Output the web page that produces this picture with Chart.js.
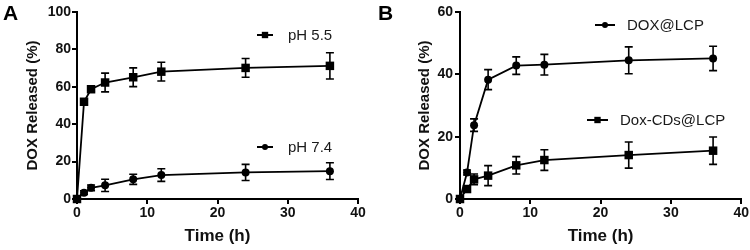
<!DOCTYPE html>
<html>
<head>
<meta charset="utf-8">
<script src="https://cdn.jsdelivr.net/npm/chart.js@4.4.1/dist/chart.umd.min.js"></script>
<style>
  html, body { margin: 0; padding: 0; background: #fff; }
  #wrap { position: relative; width: 750px; height: 250px; overflow: hidden; }
  .panel { position: absolute; top: 0; width: 375px; height: 250px; }
  .letter { position: absolute; top: 1px; font: bold 21px "Liberation Sans", Arial, sans-serif; color: #000; }
</style>
</head>
<body>
<div id="wrap">
  <div class="panel" style="left:0"><canvas id="cA" width="375" height="250"></canvas></div>
  <div class="panel" style="left:375px"><canvas id="cB" width="375" height="250"></canvas></div>
  <div class="letter" style="left:3px">A</div>
  <div class="letter" style="left:378px">B</div>
</div>
<script>
// ---- data ----
const timeH = [0, 1, 2, 4, 8, 12, 24, 36];

const ph55 = [0, 52, 58.7, 62.3, 65.1, 68.1, 70.1, 71.2];
const ph55Err = [0, 1.5, 1.2, 5, 5, 5, 5, 7];
const ph74 = [0, 3.4, 6, 7.3, 10.5, 12.8, 14.2, 14.9];
const ph74Err = [0, 1, 1.5, 3.3, 2.7, 3.4, 4.3, 4.5];

const doxLcp = [0, 8.5, 23.7, 38.3, 42.8, 43.1, 44.5, 45.1];
const doxLcpErr = [0, 0.8, 2, 3.2, 2.8, 3.3, 4.3, 3.9];
const doxCds = [0, 3.2, 6.3, 7.5, 10.8, 12.5, 14.1, 15.5];
const doxCdsErr = [0, 1, 1.7, 3.2, 2.8, 3.3, 4.2, 4.4];

const xTicks = [0, 10, 20, 30, 40];
const yTicksA = [0, 20, 40, 60, 80, 100];
const yTicksB = [0, 20, 40, 60];

const labelsA = ['pH 5.5', 'pH 7.4'];
const labelsB = ['DOX@LCP', 'Dox-CDs@LCP'];

// ---- helpers ----
const FONT = '"Liberation Sans", Arial, sans-serif';
const toPts = (ys) => timeH.map((t, i) => ({ x: t, y: ys[i] }));

const errorBarPlugin = {
  id: 'errorBars',
  afterDatasetsDraw(chart) {
    const ctx = chart.ctx;
    const yScale = chart.scales.y;
    chart.data.datasets.forEach((ds, i) => {
      if (!ds.errors) return;
      const meta = chart.getDatasetMeta(i);
      meta.data.forEach((pt, j) => {
        const e = ds.errors[j];
        if (!e) return;
        const v = ds.data[j].y;
        const yTop = yScale.getPixelForValue(v + e);
        const yBot = yScale.getPixelForValue(v - e);
        const cap = 4;
        ctx.save();
        ctx.strokeStyle = '#000';
        ctx.lineWidth = 1.6;
        ctx.beginPath();
        ctx.moveTo(pt.x, yTop); ctx.lineTo(pt.x, yBot);
        ctx.moveTo(pt.x - cap, yTop); ctx.lineTo(pt.x + cap, yTop);
        ctx.moveTo(pt.x - cap, yBot); ctx.lineTo(pt.x + cap, yBot);
        ctx.stroke();
        ctx.restore();
      });
    });
  }
};

const inlineLegendPlugin = {
  id: 'inlineLegend',
  afterDraw(chart, args, opts) {
    const ctx = chart.ctx;
    (opts.items || []).forEach((it) => {
      const ds = chart.data.datasets[it.dataset];
      ctx.save();
      ctx.strokeStyle = '#000';
      ctx.lineWidth = 2;
      ctx.beginPath();
      ctx.moveTo(it.x1, it.y); ctx.lineTo(it.x2, it.y);
      ctx.stroke();
      ctx.fillStyle = '#000';
      Chart.helpers.drawPoint(ctx, {
        pointStyle: ds.pointStyle, radius: it.r, rotation: 0, borderWidth: 0
      }, (it.x1 + it.x2) / 2, it.y);
      ctx.fillStyle = '#1a1a1a';
      ctx.font = '15px ' + FONT;
      ctx.textBaseline = 'middle';
      ctx.textAlign = 'left';
      ctx.fillText(ds.label, it.tx, it.y + 1);
      ctx.restore();
    });
  }
};

function makeScales(yMax, yTicks, yWidth, yTitlePad, yTickPad) {
  const axisCommon = {
    border: { display: true, color: '#000', width: 2 },
    grid: { display: true, drawOnChartArea: false, drawTicks: true, tickLength: 5, color: '#000', lineWidth: 2 },
  };
  return {
    x: Object.assign({}, axisCommon, {
      type: 'linear', min: 0, max: 40,
      afterBuildTicks: (s) => { s.ticks = xTicks.map(v => ({ value: v })); },
      ticks: { color: '#111', font: { family: FONT, weight: 'bold', size: 14 }, padding: 1, maxRotation: 0 },
      title: { display: true, text: 'Time (h)', color: '#111', font: { family: FONT, weight: 'bold', size: 17 }, padding: { top: 0, bottom: 3 } },
      afterFit: (s) => { s.height = 51; }
    }),
    y: Object.assign({}, axisCommon, {
      type: 'linear', min: 0, max: yMax,
      afterBuildTicks: (s) => { s.ticks = yTicks.map(v => ({ value: v })); },
      ticks: { color: '#111', font: { family: FONT, weight: 'bold', size: 14 }, padding: yTickPad },
      title: { display: true, text: 'DOX Released (%)', color: '#111', font: { family: FONT, weight: 'bold', size: 15 }, padding: { top: yTitlePad, bottom: 0 } },
      afterFit: (s) => { s.width = yWidth; }
    })
  };
}

function ds(label, ys, errs, style, radius) {
  return {
    label, data: toPts(ys), errors: errs,
    borderColor: '#000', backgroundColor: '#000', borderWidth: 1.8,
    pointStyle: style, pointRadius: radius, pointHoverRadius: radius,
    pointBackgroundColor: '#000', pointBorderColor: '#000', pointBorderWidth: 0,
    tension: 0, clip: false
  };
}

function makeChart(id, datasets, scales, padding, legendItems) {
  return new Chart(document.getElementById(id), {
    type: 'line',
    data: { datasets },
    options: {
      responsive: false, animation: false, devicePixelRatio: 1,
      layout: { padding },
      scales,
      plugins: {
        legend: { display: false }, tooltip: { enabled: false },
        inlineLegend: { items: legendItems }
      }
    },
    plugins: [errorBarPlugin, inlineLegendPlugin]
  });
}

makeChart('cA',
  [ds(labelsA[0], ph55, ph55Err, 'rect', 6), ds(labelsA[1], ph74, ph74Err, 'circle', 4)],
  makeScales(100, yTicksA, 77, 24, 1),
  { top: 12, right: 17, bottom: 0, left: 0 },
  [
    { dataset: 0, x1: 257, x2: 273, y: 35, tx: 288, r: 4.5 },
    { dataset: 1, x1: 257, x2: 273, y: 147, tx: 288, r: 3 }
  ]
);

makeChart('cB',
  [ds(labelsB[0], doxLcp, doxLcpErr, 'circle', 4), ds(labelsB[1], doxCds, doxCdsErr, 'rect', 6)],
  makeScales(60, yTicksB, 85, 41, 2),
  { top: 12, right: 8, bottom: 0, left: 0 },
  [
    { dataset: 0, x1: 220, x2: 240, y: 25, tx: 252, r: 3 },
    { dataset: 1, x1: 212, x2: 233, y: 120, tx: 245, r: 4.5 }
  ]
);
</script>
</body>
</html>
